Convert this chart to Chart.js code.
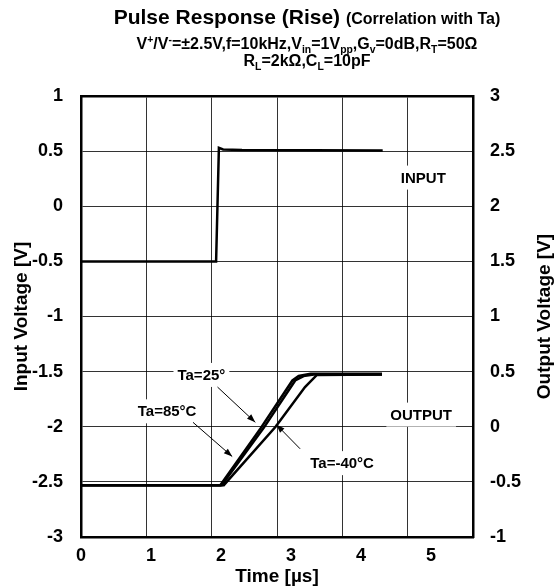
<!DOCTYPE html>
<html>
<head>
<meta charset="utf-8">
<script src="https://cdn.jsdelivr.net/npm/chart.js@4.4.1/dist/chart.umd.min.js"></script>
<style>
body { margin: 0; background: #fff; font-family: "Liberation Sans", Arial, sans-serif; }
#wrap { position: relative; width: 559px; height: 588px; }
#chart { position: absolute; left: 0; top: 0; }
.t { position: absolute; left: 307px; transform: translateX(-50%); white-space: nowrap; font-weight: bold; color: #000; line-height: 1; }
sub, sup { font-size: 65%; line-height: 0; }
</style>
</head>
<body>
<div id="wrap">
  <canvas id="chart" width="559" height="588"></canvas>
  <div class="t" style="top:6px;font-size:21px">Pulse Response (Rise) <span style="font-size:16px">(Correlation with Ta)</span></div>
  <div class="t" style="top:36px;font-size:16px">V<sup>+</sup>/V<sup>-</sup>=±2.5V,f=10kHz,V<sub>in</sub>=1V<sub>pp</sub>,G<sub>v</sub>=0dB,R<sub>T</sub>=50Ω</div>
  <div class="t" style="top:53px;font-size:16px">R<sub>L</sub>=2kΩ,C<sub>L</sub>=10pF</div>
</div>
<script>
// 時間軸のラベル [µs]
const timeTicks = [0, 1, 2, 3, 4, 5];

// 入力波形 (左軸)
const inputT = [0, 1.93, 1.97, 2.03, 2.3, 4.31];
const inputV = [-0.5, -0.5, 0.53, 0.515, 0.51, 0.505];

// 出力波形 (右軸)
const out85T = [0, 1.99, 2.57, 3.02, 3.11, 3.28, 4.3];
const out85V = [-0.53, -0.53, -0.01, 0.42, 0.46, 0.48, 0.48];
const out25T = [0, 2.01, 2.61, 3.06, 3.18, 3.35, 4.3];
const out25V = [-0.53, -0.53, -0.01, 0.42, 0.46, 0.475, 0.475];
const out40T = [0, 2.04, 2.78, 3.2, 3.37, 4.3];
const out40V = [-0.53, -0.53, 0.0, 0.36, 0.47, 0.475];

// 注記 (左軸の値で位置)
const noteText = ['INPUT', 'OUTPUT', 'Ta=25°', 'Ta=85°C', 'Ta=-40°C'];
const noteT = [4.89, 4.86, 1.72, 1.23, 3.73];
const noteV = [0.26, -1.89, -1.53, -1.86, -2.33];
const arrowT0 = [1.95, 1.60, 3.13];
const arrowV0 = [-1.64, -1.96, -2.20];
const arrowT1 = [2.49, 2.16, 2.79];
const arrowV1 = [-1.96, -2.27, -1.98];

const FONT = '"Liberation Sans", Arial, sans-serif';
const toXY = (ts, vs) => ts.map((t, i) => ({x: t, y: vs[i]}));
const fmt = v => String(Number(v.toFixed(1)));

const lineStyle = {borderColor: '#000', borderWidth: 2.5, pointRadius: 0, tension: 0, fill: false, xAxisID: 'x'};

const notes = {
  id: 'notes',
  beforeDatasetsDraw(chart) {
    const {ctx, scales: {x, y}} = chart;
    ctx.save();
    ctx.font = 'bold 15px ' + FONT;
    ctx.textAlign = 'center';
    ctx.textBaseline = 'middle';
    noteText.forEach((s, i) => {
      const px = x.getPixelForValue(noteT[i]);
      const py = y.getPixelForValue(noteV[i]);
      const w = ctx.measureText(s).width;
      ctx.fillStyle = '#fff';
      ctx.fillRect(px - w / 2 - 4, py - 12, w + 8, 24);
      ctx.fillStyle = '#000';
      ctx.fillText(s, px, py + 1);
    });
    ctx.restore();
  },
  afterDatasetsDraw(chart) {
    const {ctx, scales: {x, y}} = chart;
    ctx.save();
    ctx.strokeStyle = '#000';
    ctx.fillStyle = '#000';
    ctx.lineWidth = 1;
    arrowT0.forEach((t, i) => {
      const x0 = x.getPixelForValue(t), y0 = y.getPixelForValue(arrowV0[i]);
      const x1 = x.getPixelForValue(arrowT1[i]), y1 = y.getPixelForValue(arrowV1[i]);
      const a = Math.atan2(y1 - y0, x1 - x0);
      ctx.beginPath();
      ctx.moveTo(x0, y0);
      ctx.lineTo(x1, y1);
      ctx.stroke();
      ctx.beginPath();
      ctx.moveTo(x1, y1);
      ctx.lineTo(x1 - 9 * Math.cos(a - 0.35), y1 - 9 * Math.sin(a - 0.35));
      ctx.lineTo(x1 - 9 * Math.cos(a + 0.35), y1 - 9 * Math.sin(a + 0.35));
      ctx.closePath();
      ctx.fill();
    });
    ctx.restore();
  },
  afterDraw(chart) {
    const {ctx, scales: {y2}} = chart;
    ctx.save();
    ctx.font = 'bold 19px ' + FONT;
    ctx.fillStyle = '#000';
    ctx.textAlign = 'center';
    ctx.textBaseline = 'middle';
    ctx.translate(y2.left + 72, (y2.top + y2.bottom) / 2);
    ctx.rotate(-Math.PI / 2);
    ctx.fillText('Output Voltage [V]', 0, 0);
    ctx.restore();
  }
};

const gridColor = 'rgba(0,0,0,0.8)';

new Chart(document.getElementById('chart'), {
  type: 'line',
  data: {
    datasets: [
      Object.assign({label: 'INPUT', data: toXY(inputT, inputV), yAxisID: 'y'}, lineStyle),
      Object.assign({label: 'Ta=85°C', data: toXY(out85T, out85V), yAxisID: 'y2'}, lineStyle),
      Object.assign({label: 'Ta=25°C', data: toXY(out25T, out25V), yAxisID: 'y2'}, lineStyle),
      Object.assign({label: 'Ta=-40°C', data: toXY(out40T, out40V), yAxisID: 'y2'}, lineStyle)
    ]
  },
  options: {
    responsive: false,
    animation: false,
    layout: {padding: 0},
    plugins: {legend: {display: false}, tooltip: {enabled: false}},
    scales: {
      x: {
        type: 'linear', position: 'bottom', min: 0, max: 5.6,
        afterBuildTicks: s => { s.ticks = timeTicks.map(v => ({value: v})); },
        afterFit: s => { s.height = 51; },
        grid: {display: false, drawTicks: false},
        border: {display: true, color: '#000', width: 2.5},
        ticks: {color: '#000', padding: 8, callback: fmt, font: {family: FONT, size: 18, weight: 'bold'}},
        title: {display: true, text: 'Time [µs]', color: '#000', padding: 0, font: {family: FONT, size: 19, weight: 'bold'}}
      },
      xg: {
        type: 'linear', position: 'top', min: 0, max: 6,
        afterFit: s => { s.height = 96; },
        ticks: {display: false, stepSize: 1},
        grid: {color: gridColor, lineWidth: 1, drawTicks: false},
        border: {display: true, color: '#000', width: 2.5}
      },
      y: {
        type: 'linear', position: 'left', min: -3, max: 1,
        afterFit: s => { s.width = 81; },
        ticks: {stepSize: 0.5, color: '#000', padding: 18, callback: fmt, font: {family: FONT, size: 18, weight: 'bold'}},
        grid: {color: gridColor, lineWidth: 1, drawTicks: false},
        border: {display: true, color: '#000', width: 2.5},
        title: {display: true, text: 'Input Voltage [V]', color: '#000', padding: {top: 10, bottom: 0}, font: {family: FONT, size: 19, weight: 'bold'}}
      },
      y2: {
        type: 'linear', position: 'right', min: -1, max: 3,
        afterFit: s => { s.width = 86; },
        ticks: {stepSize: 0.5, color: '#000', padding: 17, callback: fmt, font: {family: FONT, size: 18, weight: 'bold'}},
        grid: {display: false, drawTicks: false},
        border: {display: true, color: '#000', width: 2.5}
      }
    }
  },
  plugins: [notes]
});
</script>
</body>
</html>
